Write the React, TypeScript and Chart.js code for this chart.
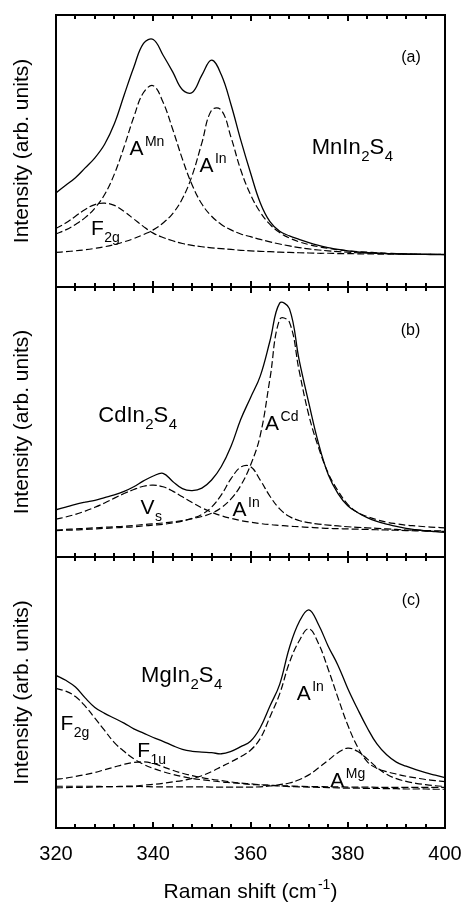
import React, { useEffect, useRef } from 'react';
import { Chart, registerables } from 'chart.js';

Chart.register(...registerables);

const FONT = "'Liberation Sans', Arial, Helvetica, sans-serif";

// Raman shift (cm^-1) sampling shared by all spectra
const RAMAN_SHIFT = [
  320, 322, 324, 326, 328, 330, 332, 334, 336, 338, 340, 342, 344, 346, 348, 350, 352, 354, 356, 358,
  360, 362, 364, 366, 368, 370, 372, 374, 376, 378, 380, 382, 384, 386, 388, 390, 392, 394, 396, 398, 400,
];

// x-axis tick marks (minor every 4, labelled every 20)
const X_TICKS = [320, 324, 328, 332, 336, 340, 344, 348, 352, 356, 360, 364, 368, 372, 376, 380, 384, 388, 392, 396, 400];
const X_TICK_LABELS = ['320', '340', '360', '380', '400'];

// (a) MnIn2S4
const MN_TOTAL = [
  34.6, 37.4, 40.2, 43.8, 47.5, 52.5, 60.0, 70.5, 80.8, 89.6, 91.0, 85.3, 79.1, 72.5, 71.5, 77.9, 83.4, 78.0, 67.0, 54.0,
  42.0, 31.0, 24.0, 20.5, 18.8, 17.5, 16.3, 15.3, 14.5, 13.8, 13.3, 12.9, 12.6, 12.4, 12.3, 12.2, 12.1, 12.0, 12.0, 11.9, 11.9,
];
const MN_A_MN = [
  19.5, 21.0, 23.0, 25.5, 29.0, 34.0, 41.5, 51.5, 62.5, 71.5, 74.0, 68.0, 58.0, 47.0, 37.5, 30.5, 26.0, 23.0, 21.0, 19.5,
  18.5, 17.5, 16.6, 15.8, 15.1, 14.5, 14.0, 13.6, 13.3, 13.0, 12.8, 12.6, 12.5, 12.4, 12.3, 12.2, 12.1, 12.1, 12.0, 12.0, 12.0,
];
const MN_A_IN = [
  12.7, 13.0, 13.3, 13.7, 14.2, 14.8, 15.6, 16.6, 17.8, 19.3, 21.0, 23.5, 27.0, 32.5, 41.0, 53.0, 65.0, 65.0, 55.0, 43.0,
  34.0, 27.5, 23.0, 20.0, 18.0, 16.6, 15.6, 14.8, 14.2, 13.7, 13.3, 13.0, 12.8, 12.6, 12.4, 12.3, 12.2, 12.1, 12.0, 12.0, 11.9,
];
const MN_F2G = [
  21.5, 23.5, 26.0, 28.5, 30.3, 30.8, 30.0, 27.8, 25.0, 22.2, 19.8, 18.2, 17.0, 16.0, 15.3, 14.8, 14.4, 14.1, 13.8, 13.5,
  13.3, 13.1, 13.0, 12.8, 12.7, 12.6, 12.5, 12.4, 12.4, 12.3, 12.3, 12.2, 12.2, 12.1, 12.1, 12.1, 12.0, 12.0, 12.0, 12.0, 12.0,
];

// (b) CdIn2S4
const CD_TOTAL = [
  17.5, 18.5, 19.5, 20.3, 21.0, 22.0, 23.0, 24.3, 26.0, 28.2, 30.0, 31.0, 28.0, 25.3, 24.6, 25.5, 28.5, 33.5, 41.0, 51.0,
  59.0, 67.0, 80.0, 94.0, 92.0, 73.0, 57.0, 42.0, 30.5, 23.5, 19.0, 16.5, 14.6, 13.2, 12.2, 11.3, 10.6, 10.1, 9.7, 9.4, 9.1,
];
const CD_A_CD = [
  10.0, 10.2, 10.4, 10.6, 10.8, 11.0, 11.2, 11.4, 11.7, 12.0, 12.3, 12.6, 13.0, 13.5, 14.2, 15.0, 16.2, 18.3, 21.5, 26.5,
  34.0, 45.0, 66.0, 88.0, 87.0, 69.0, 52.5, 40.5, 31.0, 24.5, 19.5, 16.5, 15.0, 13.8, 12.9, 12.3, 11.8, 11.5, 11.2, 11.0, 10.8,
];
const CD_A_IN = [
  9.8, 9.9, 10.0, 10.2, 10.4, 10.6, 10.8, 11.0, 11.2, 11.5, 11.8, 12.1, 12.6, 13.3, 14.3, 15.8, 18.5, 23.0, 29.0, 33.3,
  33.5, 28.5, 22.5, 17.8, 15.0, 13.5, 12.7, 12.2, 11.8, 11.5, 11.2, 11.0, 10.8, 10.6, 10.4, 10.2, 10.0, 9.9, 9.8, 9.7, 9.6,
];
const CD_VS = [
  14.0, 14.8, 15.8, 17.0, 18.4, 20.0, 21.8, 23.5, 25.0, 26.2, 26.6, 26.0, 24.4, 22.3, 20.2, 18.2, 16.6, 15.3, 14.3, 13.5,
  12.9, 12.4, 12.0, 11.7, 11.4, 11.2, 11.0, 10.8, 10.6, 10.5, 10.4, 10.3, 10.2, 10.1, 10.0, 9.9, 9.8, 9.7, 9.6, 9.5, 9.5,
];

// (c) MgIn2S4
const MG_TOTAL = [
  56.3, 54.5, 52.0, 48.0, 44.5, 42.3, 40.5, 38.7, 36.6, 35.0, 33.4, 32.0, 30.4, 29.0, 28.3, 28.0, 27.8, 27.4, 28.3, 30.0,
  32.0, 37.0, 45.0, 53.0, 66.5, 76.0, 80.5, 75.0, 67.0, 60.0, 51.5, 44.0, 37.0, 31.0, 27.0, 24.3, 22.8, 21.5, 20.4, 19.5, 18.6,
];
const MG_A_IN = [
  14.8, 14.9, 15.0, 15.0, 15.1, 15.2, 15.3, 15.4, 15.5, 15.8, 16.1, 16.5, 17.0, 17.5, 18.3, 19.3, 20.8, 22.6, 24.4, 26.3,
  28.7, 33.0, 41.0, 49.5, 61.0, 69.0, 73.5, 68.0, 58.5, 48.0, 38.0, 30.0, 24.5, 22.0, 20.8, 19.9, 19.1, 18.5, 17.9, 17.5, 17.1,
];
const MG_A_MG = [
  15.4, 15.4, 15.4, 15.4, 15.4, 15.3, 15.3, 15.3, 15.3, 15.3, 15.2, 15.2, 15.2, 15.2, 15.2, 15.2, 15.1, 15.1, 15.1, 15.1,
  15.1, 15.2, 15.5, 16.0, 16.6, 17.8, 19.6, 22.2, 25.0, 27.8, 29.5, 28.3, 25.5, 22.3, 19.8, 18.2, 17.2, 16.5, 16.0, 15.6, 15.3,
];
const MG_F2G = [
  51.5, 50.5, 48.5, 45.0, 40.5, 36.0, 31.5, 28.3, 25.5, 23.5, 22.0, 20.8, 19.8, 19.0, 18.3, 17.8, 17.4, 17.0, 16.7, 16.4,
  16.1, 15.9, 15.7, 15.5, 15.3, 15.2, 15.1, 15.0, 14.9, 14.8, 14.7, 14.7, 14.6, 14.6, 14.5, 14.5, 14.4, 14.4, 14.4, 14.3, 14.3,
];
const MG_F1U = [
  18.0, 18.4, 19.0, 19.7, 20.5, 21.5, 22.5, 23.5, 24.2, 24.4, 23.8, 22.6, 21.3, 20.2, 19.3, 18.6, 18.0, 17.5, 17.0, 16.6,
  16.3, 16.0, 15.8, 15.6, 15.5, 15.4, 15.3, 15.3, 15.2, 15.2, 15.1, 15.1, 15.1, 15.0, 15.0, 15.0, 15.0, 15.0, 15.0, 15.0, 15.0,
];

type Part = [string, number]; // 0 normal, 1 superscript, -1 subscript
type Label = { x: number; y: number; size: number; parts: Part[] };

const LABELS_A: Label[] = [
  { x: 391.0, y: 82.9, size: 16, parts: [['(a)', 0]] },
  { x: 372.6, y: 49.0, size: 22, parts: [['MnIn', 0], ['2', -1], ['S', 0], ['4', -1]] },
  { x: 335.1, y: 48.5, size: 21, parts: [['A', 0], ['Mn', 1]] },
  { x: 349.5, y: 42.4, size: 21, parts: [['A', 0], ['In', 1]] },
  { x: 327.2, y: 19.1, size: 21, parts: [['F', 0], ['2g', -1]] },
];
const LABELS_B: Label[] = [
  { x: 390.9, y: 82.2, size: 16, parts: [['(b)', 0]] },
  { x: 328.7, y: 49.9, size: 22, parts: [['CdIn', 0], ['2', -1], ['S', 0], ['4', -1]] },
  { x: 337.4, y: 16.0, size: 21, parts: [['V', 0], ['s', -1]] },
  { x: 356.3, y: 15.1, size: 21, parts: [['A', 0], ['In', 1]] },
  { x: 363.0, y: 46.9, size: 21, parts: [['A', 0], ['Cd', 1]] },
];
const LABELS_C: Label[] = [
  { x: 391.1, y: 82.2, size: 16, parts: [['(c)', 0]] },
  { x: 337.5, y: 53.9, size: 22, parts: [['MgIn', 0], ['2', -1], ['S', 0], ['4', -1]] },
  { x: 320.9, y: 36.2, size: 21, parts: [['F', 0], ['2g', -1]] },
  { x: 336.7, y: 26.3, size: 21, parts: [['F', 0], ['1u', -1]] },
  { x: 369.5, y: 47.3, size: 21, parts: [['A', 0], ['In', 1]] },
  { x: 376.4, y: 15.2, size: 21, parts: [['A', 0], ['Mg', 1]] },
];

const X_TITLE: Part[] = [['Raman shift (cm', 0], ['-1', 1], [')', 0]];
const Y_TITLE = 'Intensity (arb. units)';

function drawParts(ctx: CanvasRenderingContext2D, parts: Part[], x: number, y: number, size: number, small: number) {
  let px = x;
  for (const [txt, kind] of parts) {
    const s = kind === 0 ? size : small;
    ctx.font = `${s}px ${FONT}`;
    let dy = 0;
    if (kind === 1) { dy = -Math.round(size * 0.42); px += 1.5; }
    if (kind === -1) { dy = Math.round(size * 0.33); px += 0.5; }
    ctx.fillText(txt, px, y + dy);
    px += ctx.measureText(txt).width;
  }
}

function partsWidth(ctx: CanvasRenderingContext2D, parts: Part[], size: number, small: number) {
  let w = 0;
  for (const [txt, kind] of parts) {
    ctx.font = `${kind === 0 ? size : small}px ${FONT}`;
    w += ctx.measureText(txt).width + (kind === 1 ? 1.5 : kind === -1 ? 0.5 : 0);
  }
  return w;
}

// Draws the annotations, the inward tick marks and the closed frame of each panel
const panelPlugin = {
  id: 'ramanPanel',
  afterDatasetsDraw(chart: any, _args: any, opts: any) {
    const ctx: CanvasRenderingContext2D = chart.ctx;
    const a = chart.chartArea;
    const xs = chart.scales.x;
    const ys = chart.scales.y;
    ctx.save();
    ctx.setLineDash([]);
    ctx.fillStyle = '#000';
    ctx.strokeStyle = '#000';
    ctx.textBaseline = 'alphabetic';
    ctx.textAlign = 'left';
    (opts.items || []).forEach((lab: Label) => {
      drawParts(ctx, lab.parts, xs.getPixelForValue(lab.x), ys.getPixelForValue(lab.y), lab.size, Math.round(lab.size * 0.68));
    });
    if (opts.xTitle) {
      const size = 21;
      const small = 14;
      const w = partsWidth(ctx, opts.xTitle, size, small);
      drawParts(ctx, opts.xTitle, (a.left + a.right) / 2 - w / 2, a.bottom + 70, size, small);
    }
    // tick marks
    ctx.lineWidth = 2;
    ctx.beginPath();
    for (let i = 0; i < X_TICKS.length; i++) {
      const v = X_TICKS[i];
      const px = Math.round(xs.getPixelForValue(v));
      const len = X_TICK_LABELS.indexOf(String(v)) >= 0 ? 6 : 4;
      ctx.moveTo(px, a.top);
      ctx.lineTo(px, a.top + len);
      ctx.moveTo(px, a.bottom);
      ctx.lineTo(px, a.bottom - len);
    }
    ctx.stroke();
    // frame
    ctx.lineWidth = 2;
    ctx.strokeRect(a.left, a.top, a.right - a.left, a.bottom - a.top);
    ctx.restore();
  },
};

type Series = { data: number[]; dashed: boolean };
type PanelProps = {
  top: number;
  height: number;
  padTop: number;
  padBottom: number;
  showX: boolean;
  series: Series[];
  labels: Label[];
};

function Panel({ top, height, padTop, padBottom, showX, series, labels }: PanelProps) {
  const ref = useRef<HTMLCanvasElement | null>(null);
  useEffect(() => {
    if (!ref.current) return;
    const xScale: any = {
      type: 'linear',
      min: 320,
      max: 400,
      display: showX,
      afterBuildTicks: (s: any) => { s.ticks = X_TICKS.map((v) => ({ value: v })); },
      ticks: {
        autoSkip: false,
        maxRotation: 0,
        padding: 14,
        color: '#000',
        font: { size: 20, family: FONT },
        callback: (v: any) => (X_TICK_LABELS.includes(String(v)) ? String(v) : ''),
      },
      grid: { display: false, drawTicks: false },
      border: { display: false },
    };
    if (showX) {
      xScale.afterFit = (s: any) => {
        s.height = 40;
        s.paddingLeft = 0;
        s.paddingRight = 0;
      };
    }
    const chart = new Chart(ref.current, {
      type: 'line',
      data: {
        datasets: series.map((s) => ({
          data: RAMAN_SHIFT.map((x, i) => ({ x, y: s.data[i] })),
          borderColor: '#000',
          borderWidth: s.dashed ? 1.2 : 1.3,
          borderDash: s.dashed ? [7, 3] : [],
          pointRadius: 0,
          fill: false,
          tension: 0.4,
        })),
      },
      options: {
        animation: false,
        responsive: false,
        maintainAspectRatio: false,
        events: [],
        layout: { padding: { left: 0, right: 20, top: padTop, bottom: padBottom } },
        plugins: {
          legend: { display: false },
          tooltip: { enabled: false },
          ramanPanel: { items: labels, xTitle: showX ? X_TITLE : null },
        } as any,
        scales: {
          x: xScale,
          y: {
            min: 0,
            max: 100,
            ticks: { display: false },
            grid: { display: false, drawTicks: false },
            border: { display: false },
            title: {
              display: true,
              text: Y_TITLE,
              color: '#000',
              font: { size: 21, family: FONT },
              padding: { top: 10, bottom: 0 },
            },
            afterFit: (s: any) => { s.width = 56; },
          },
        },
      } as any,
      plugins: [panelPlugin],
    });
    return () => chart.destroy();
  }, []);
  return (
    <canvas
      ref={ref}
      width={465}
      height={height}
      style={{ position: 'absolute', left: 0, top, width: 465, height }}
    />
  );
}

export default function App() {
  Chart.defaults.font.family = FONT;
  Chart.defaults.color = '#000';
  return (
    <div style={{ position: 'absolute', left: 0, top: 0, width: 465, height: 903, background: '#fff' }}>
      <Panel
        top={0}
        height={290}
        padTop={15}
        padBottom={3}
        showX={false}
        labels={LABELS_A}
        series={[
          { data: MN_TOTAL, dashed: false },
          { data: MN_A_MN, dashed: true },
          { data: MN_A_IN, dashed: true },
          { data: MN_F2G, dashed: true },
        ]}
      />
      <Panel
        top={284}
        height={276}
        padTop={3}
        padBottom={3}
        showX={false}
        labels={LABELS_B}
        series={[
          { data: CD_TOTAL, dashed: false },
          { data: CD_A_CD, dashed: true },
          { data: CD_A_IN, dashed: true },
          { data: CD_VS, dashed: true },
        ]}
      />
      <Panel
        top={554}
        height={349}
        padTop={3}
        padBottom={35}
        showX={true}
        labels={LABELS_C}
        series={[
          { data: MG_TOTAL, dashed: false },
          { data: MG_A_IN, dashed: true },
          { data: MG_A_MG, dashed: true },
          { data: MG_F2G, dashed: true },
          { data: MG_F1U, dashed: true },
        ]}
      />
    </div>
  );
}
